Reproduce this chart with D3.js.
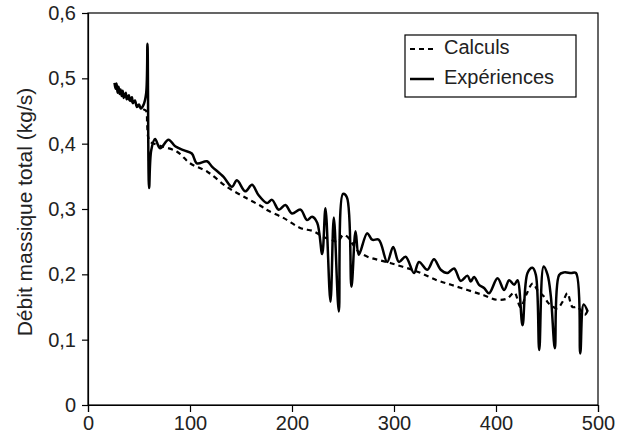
<!DOCTYPE html>
<html>
<head>
<meta charset="utf-8">
<script src="https://cdn.jsdelivr.net/npm/d3@7"></script>
<style>
  body { margin: 0; background: #fff; }
  svg { display: block; font-family: "Liberation Sans", Arial, sans-serif; }
</style>
</head>
<body>
<svg id="chart" width="617" height="446"></svg>
<script>
// tick values
const xTicks = [0, 100, 200, 300, 400, 500];
const yTicks = [0, 0.1, 0.2, 0.3, 0.4, 0.5, 0.6];

// Calculs (dashed)
const calcX = [27, 30, 35, 40, 45, 50, 55, 57, 58, 59, 61, 70, 87, 100, 117, 136, 156, 169, 176, 192, 208, 221, 230, 240, 245, 250, 254, 260, 265, 274, 297, 323, 342, 356, 372, 388, 401, 411, 418, 424, 430, 436, 441, 447, 452, 460, 466, 470, 475, 480, 487, 490];
const calcY = [0.488, 0.482, 0.475, 0.468, 0.462, 0.457, 0.452, 0.450, 0.430, 0.410, 0.403, 0.397, 0.388, 0.370, 0.357, 0.334, 0.316, 0.305, 0.298, 0.286, 0.271, 0.266, 0.258, 0.252, 0.250, 0.260, 0.258, 0.245, 0.235, 0.227, 0.217, 0.204, 0.191, 0.184, 0.176, 0.168, 0.161, 0.163, 0.172, 0.150, 0.170, 0.186, 0.175, 0.166, 0.155, 0.148, 0.160, 0.171, 0.150, 0.150, 0.138, 0.145];

// Expériences (solid)
const expX = [26, 27, 28, 29, 30, 31, 32, 33, 34, 35, 37, 38, 40, 41, 43, 44, 46, 48, 50, 51.7, 54.3, 57, 58.3, 59.9, 62, 65.8, 70.7, 78.9, 85.5, 93.6, 101.8, 106.7, 116.6, 121.5, 132.9, 141.1, 146, 154.2, 160.8, 167.3, 175.5, 180.4, 187, 193.5, 200, 208.3, 214.8, 219.7, 224.7, 229.6, 232.8, 237.7, 241, 245.9, 250, 253.8, 258.3, 262.3, 265.5, 273.7, 278.6, 285.1, 293.3, 299.2, 304.8, 311.4, 319.6, 324.5, 332.7, 339.2, 345.8, 352.3, 358.9, 365.4, 372, 375.2, 378.5, 383.4, 388.3, 393.2, 401.5, 408, 412.9, 417.8, 421.1, 426, 430.9, 435.8, 439.1, 442.4, 446.7, 450.6, 453.8, 457.7, 461.9, 466.8, 473.5, 478.4, 482.6, 485.9, 489.9];
const expY = [0.493, 0.484, 0.492, 0.478, 0.487, 0.476, 0.483, 0.473, 0.481, 0.470, 0.478, 0.468, 0.474, 0.466, 0.471, 0.462, 0.466, 0.456, 0.460, 0.454, 0.459, 0.477, 0.553, 0.332, 0.390, 0.407, 0.393, 0.406, 0.396, 0.390, 0.385, 0.370, 0.373, 0.365, 0.349, 0.334, 0.344, 0.327, 0.337, 0.321, 0.309, 0.314, 0.299, 0.306, 0.293, 0.299, 0.283, 0.288, 0.279, 0.231, 0.301, 0.158, 0.287, 0.143, 0.323, 0.318, 0.181, 0.266, 0.230, 0.263, 0.253, 0.253, 0.219, 0.242, 0.219, 0.227, 0.202, 0.219, 0.207, 0.223, 0.207, 0.202, 0.209, 0.190, 0.198, 0.189, 0.196, 0.184, 0.179, 0.171, 0.194, 0.176, 0.191, 0.184, 0.191, 0.122, 0.202, 0.210, 0.199, 0.084, 0.212, 0.199, 0.166, 0.087, 0.199, 0.203, 0.202, 0.202, 0.079, 0.154, 0.143];

const legendLabels = ["Calculs", "Expériences"];
const yTitle = "Débit massique total (kg/s)";

const svg = d3.select("#chart");
const margin = { top: 13, right: 19, bottom: 41, left: 88 };
const width = 617 - margin.left - margin.right;
const height = 446 - margin.top - margin.bottom;
const fs = 20;

const g = svg.append("g").attr("transform", `translate(${margin.left},${margin.top})`);

const x = d3.scaleLinear().domain([0, 500]).range([0, width]);
const y = d3.scaleLinear().domain([0, 0.6]).range([height, 0]);

const fmt = d => d === 0 ? "0" : d3.format(".1f")(d).replace(".", ",");

// frame
g.append("rect")
  .attr("width", width).attr("height", height)
  .attr("fill", "none").attr("stroke", "#000").attr("stroke-width", 1.2);

const xAxis = g.append("g")
  .attr("transform", `translate(0,${height})`)
  .call(d3.axisBottom(x).tickValues(xTicks).tickSize(7).tickPadding(4).tickFormat(d3.format("d")));
const yAxis = g.append("g")
  .call(d3.axisLeft(y).tickValues(yTicks).tickSize(6).tickPadding(6).tickFormat(fmt));

[xAxis, yAxis].forEach(a => {
  a.select(".domain").attr("stroke-width", 1.2);
  a.selectAll(".tick line").attr("stroke-width", 1.2);
  a.selectAll("text").attr("font-size", fs).attr("fill", "#222")
    .attr("font-family", "Liberation Sans, Arial, sans-serif");
});

svg.append("text")
  .attr("transform", `translate(26,${margin.top + height / 2 + 3}) rotate(-90)`)
  .attr("text-anchor", "middle")
  .attr("dominant-baseline", "middle")
  .attr("font-size", 21)
  .attr("fill", "#222")
  .text(yTitle);

const line = d3.line().x(d => x(d[0])).y(d => y(d[1])).curve(d3.curveCatmullRom.alpha(0.5));

const calcData = calcX.map((v, i) => [v, calcY[i]]);
const expData = expX.map((v, i) => [v, expY[i]]);

g.append("path").datum(calcData)
  .attr("d", line)
  .attr("fill", "none").attr("stroke", "#000")
  .attr("stroke-width", 2.2).attr("stroke-dasharray", "5,4");

g.append("path").datum(expData)
  .attr("d", line)
  .attr("fill", "none").attr("stroke", "#000")
  .attr("stroke-width", 2.5).attr("stroke-linejoin", "round");

// legend
const lg = svg.append("g").attr("transform", "translate(405,35)");
lg.append("rect").attr("width", 171).attr("height", 62)
  .attr("fill", "#fff").attr("stroke", "#000").attr("stroke-width", 1.2);
legendLabels.forEach((lab, i) => {
  const cy = 14 + i * 30;
  lg.append("line").attr("x1", 5).attr("x2", 29).attr("y1", cy).attr("y2", cy)
    .attr("stroke", "#000").attr("stroke-width", i === 0 ? 2.2 : 2.5)
    .attr("stroke-dasharray", i === 0 ? "5,4" : null);
  lg.append("text").attr("x", 39).attr("y", cy).attr("dominant-baseline", "middle")
    .attr("font-size", fs).attr("fill", "#222").text(lab);
});
</script>
</body>
</html>
